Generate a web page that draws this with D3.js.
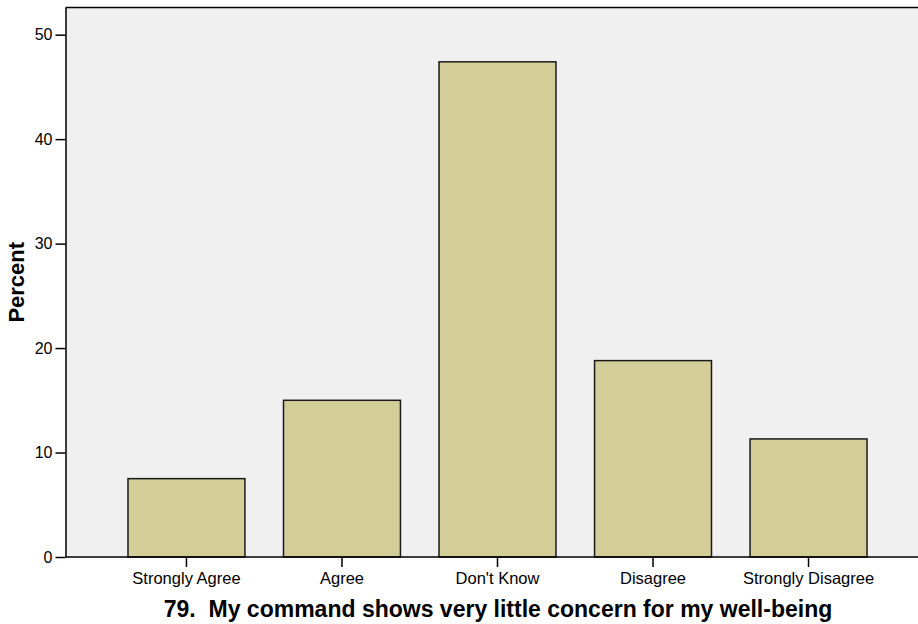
<!DOCTYPE html>
<html><head><meta charset="utf-8">
<script src="https://cdn.jsdelivr.net/npm/d3@7"></script>
<style>html,body{margin:0;padding:0;background:#fff;}</style>
</head><body>
<svg id="chart" width="918" height="624"></svg>
<script>
const categories = ["Strongly Agree", "Agree", "Don't Know", "Disagree", "Strongly Disagree"];
const percents = [7.5, 15.0, 47.4, 18.8, 11.3];
const yTicks = [0, 10, 20, 30, 40, 50];
const yLabel = "Percent";
const title = "79.  My command shows very little concern for my well-being";

const svg = d3.select("#chart");
const plot = {left: 65.5, top: 7.5, right: 919, bottom: 557};
const font = "Liberation Sans, Arial, Helvetica, sans-serif";

const x = d3.scaleBand().domain(categories).range([108.7, 886.3]).paddingInner(0.248).paddingOuter(0.124);
const y = d3.scaleLinear().domain([0, 52.6]).range([plot.bottom, plot.top]);

svg.append("rect").attr("x", plot.left).attr("y", plot.top)
  .attr("width", plot.right - plot.left).attr("height", plot.bottom - plot.top)
  .attr("fill", "#F0F0F0");

svg.append("g").selectAll("rect").data(categories).join("rect")
  .attr("x", d => x(d)).attr("width", x.bandwidth())
  .attr("y", (d, i) => y(percents[i])).attr("height", (d, i) => y(0) - y(percents[i]))
  .attr("fill", "#D3CE97").attr("stroke", "#1a1a1a").attr("stroke-width", 1.5);

// frame: top line
svg.append("line").attr("x1", plot.left).attr("x2", plot.right).attr("y1", plot.top).attr("y2", plot.top)
  .attr("stroke", "#000").attr("stroke-width", 1.5);

const yAxis = svg.append("g").attr("transform", `translate(${plot.left},0)`)
  .call(d3.axisLeft(y).tickValues(yTicks).tickSize(10).tickPadding(3).tickSizeOuter(0));
yAxis.select(".domain").attr("stroke", "#000").attr("stroke-width", 1.5);
yAxis.selectAll(".tick line").attr("stroke", "#000").attr("stroke-width", 1.5);
yAxis.selectAll("text").attr("font-family", font).attr("font-size", 16).attr("fill", "#000");

const xAxis = svg.append("g").attr("transform", `translate(0,${plot.bottom})`)
  .call(d3.axisBottom(x).tickSize(10).tickPadding(5).tickSizeOuter(0));
xAxis.select(".domain").attr("d", `M${plot.left},0H${plot.right}`).attr("stroke", "#000").attr("stroke-width", 1.5);
xAxis.selectAll(".tick line").attr("stroke", "#000").attr("stroke-width", 1.5);
xAxis.selectAll("text").attr("font-family", font).attr("font-size", 16.5).attr("fill", "#000");

svg.append("text").attr("transform", `translate(24,${(plot.top + plot.bottom) / 2}) rotate(-90)`)
  .attr("text-anchor", "middle").attr("font-family", font).attr("font-size", 22)
  .attr("font-weight", "bold").text(yLabel);

svg.append("text").attr("x", 498).attr("y", 616.5)
  .attr("text-anchor", "middle").attr("font-family", font).attr("font-size", 23)
  .attr("font-weight", "bold").style("white-space", "pre").text(title);
</script>
</body></html>
